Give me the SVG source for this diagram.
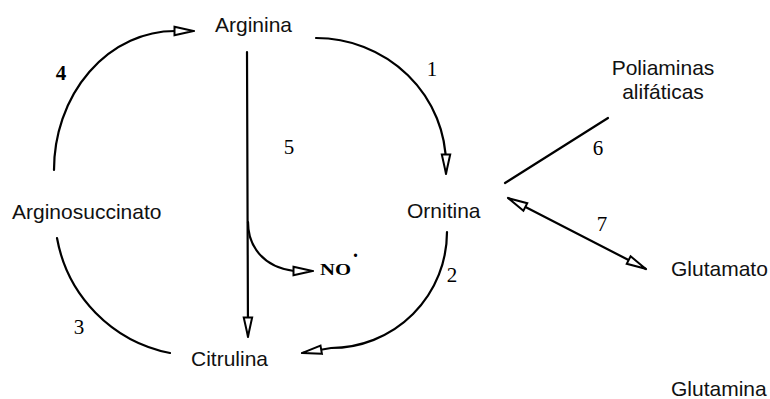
<svg xmlns="http://www.w3.org/2000/svg" width="770" height="399" viewBox="0 0 770 399">
<style>
.lbl{font-family:"Liberation Sans",Arial,sans-serif;font-size:21px;fill:#111}
.num{font-family:"Liberation Serif","Times New Roman",serif;font-size:21px;fill:#000;text-anchor:middle}
.ln{fill:none;stroke:#000;stroke-width:2.2;stroke-linecap:round}
.arr{marker-end:url(#ah)}
</style>
<defs>
<marker id="ah" viewBox="0 0 22 12" refX="21" refY="6" markerWidth="22" markerHeight="12" markerUnits="userSpaceOnUse" orient="auto-start-reverse">
<path d="M1.5,1.8 L20.5,6 L1.5,10.2 Z" fill="#fff" stroke="#000" stroke-width="2" stroke-linejoin="miter"/>
</marker>
</defs>
<rect width="770" height="399" fill="#fff"/>
<g id="connectors">
<path id="e4" class="ln arr" d="M54,170 A121,139 0 0 1 175,31 L194,31"/>
<path id="e1" class="ln arr" d="M316,38 A130,127 0 0 1 446,165 L446,174"/>
<path id="e2" class="ln arr" d="M447,232 A116,116 0 0 1 331,348 L302,353"/>
<path id="e3" class="ln" d="M57,238 A143,143 0 0 0 170,353"/>
<path id="e5" class="ln arr" d="M247,52 L248,337"/>
<path id="e5no" class="ln arr" d="M248,222 C248,245 262,267 294,271 L313,271"/>
<path id="e6" class="ln" d="M505,183 L608,118"/>
<path id="e7" class="ln" d="M508,198 L646,269" marker-start="url(#ah)" marker-end="url(#ah)"/>
</g>
<g id="arginina"><text class="lbl" x="215" y="32">Arginina</text></g>
<g id="arginosuccinato"><text class="lbl" x="12" y="219">Arginosuccinato</text></g>
<g id="ornitina"><text class="lbl" x="407" y="218">Ornitina</text></g>
<g id="citrulina"><text class="lbl" x="191" y="366">Citrulina</text></g>
<g id="poliaminas"><text class="lbl" x="663" y="75" text-anchor="middle">Poliaminas</text><text class="lbl" x="663" y="99" text-anchor="middle">alifáticas</text></g>
<g id="glutamato"><text class="lbl" x="671" y="276">Glutamato</text></g>
<g id="glutamina"><text class="lbl" x="671" y="396">Glutamina</text></g>
<g id="no" font-family="Liberation Serif,'Times New Roman',serif" font-weight="bold" fill="#000">
<text x="320" y="275" font-size="17" textLength="31" lengthAdjust="spacingAndGlyphs">NO</text>
<text x="353" y="257" font-size="20">.</text>
</g>
<g id="numbers">
<text class="num" x="61" y="80" font-weight="bold">4</text>
<text class="num" x="289" y="154">5</text>
<text class="num" x="432" y="76">1</text>
<text class="num" x="598" y="155">6</text>
<text class="num" x="79" y="334">3</text>
<text class="num" x="452" y="282">2</text>
<text class="num" x="602" y="231">7</text>
</g>
</svg>
